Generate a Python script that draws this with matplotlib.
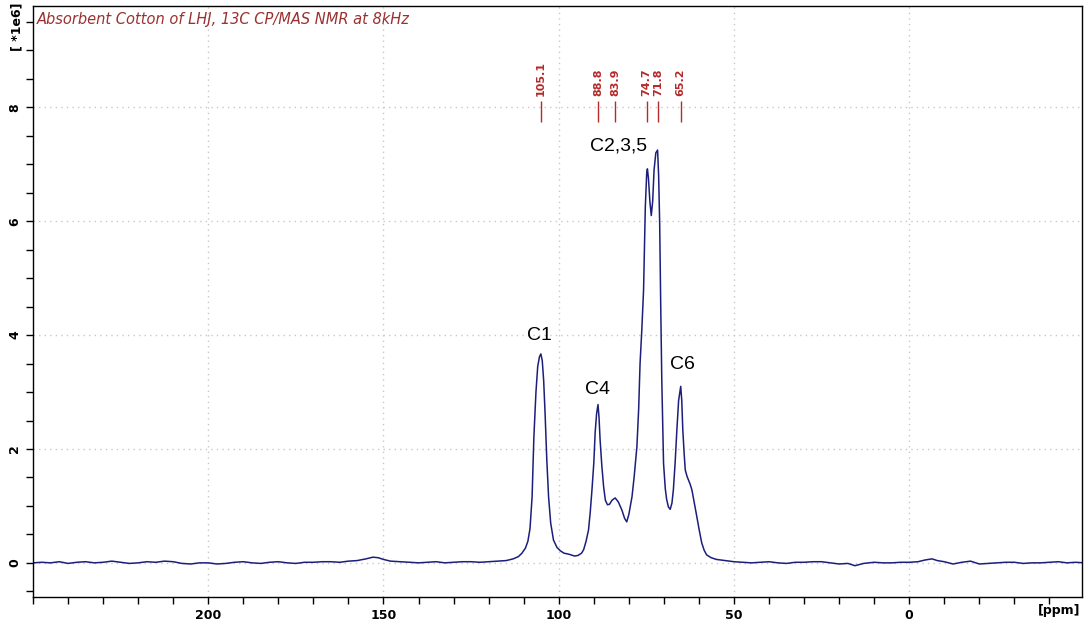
import numpy as np
import matplotlib
matplotlib.use("Agg")
import matplotlib.pyplot as plt
from matplotlib.ticker import MultipleLocator

# spectrum: chemical shift (ppm) and intensity (x 1e6)
# downfield baseline
ppm_base_hi = [250, 247.5, 245, 242.5, 240, 237.5, 235, 232.5, 230, 227.5,
               225, 222.5, 220, 217.5, 215, 212.5, 210, 207.5, 205, 202.5,
               200, 197.5, 195, 192.5, 190, 187.5, 185, 182.5, 180, 177.5,
               175, 172.5, 170, 167.5, 165, 162.5, 160, 157.5, 155, 153,
               151.5, 150, 148, 145, 142.5, 140, 137.5, 135, 132.5, 130,
               127.5, 125, 122.5, 120, 117.5, 115]
int_base_hi = [0.00, 0.01, 0.00, 0.02, -0.01, 0.01, 0.02, 0.00, 0.01, 0.03,
               0.01, -0.01, 0.00, 0.02, 0.01, 0.03, 0.02, -0.01, -0.02, 0.00,
               0.00, -0.02, -0.01, 0.01, 0.02, 0.00, -0.01, 0.01, 0.02, 0.00,
               -0.01, 0.01, 0.01, 0.02, 0.02, 0.01, 0.03, 0.04, 0.07, 0.10,
               0.09, 0.06, 0.03, 0.02, 0.01, 0.00, 0.01, 0.02, 0.00, 0.01,
               0.02, 0.02, 0.01, 0.02, 0.03, 0.04]

# cellulose carbon region
ppm_peaks = [113, 111.5, 110.5, 109.5, 108.8, 108.2, 107.6, 107.1, 106.5, 106.0,
             105.5, 105.1, 104.7, 104.3, 103.9, 103.4, 102.9, 102.3, 101.5, 100.5,
             99.5, 98.5, 97.0, 95.5, 94.5, 93.5, 92.9, 92.2, 91.5, 91.0,
             90.5, 90.0, 89.6, 89.2, 88.8, 88.5, 88.2, 87.7, 87.2, 86.7,
             86.1, 85.5, 84.8, 83.9, 83.0, 82.0, 81.2, 80.6, 80.0, 79.5,
             79.1, 78.5, 77.7, 77.2, 76.8, 76.3, 75.8, 75.3, 74.9, 74.7,
             74.4, 74.0, 73.6, 73.2, 72.8, 72.3, 71.8, 71.5, 71.2, 70.9,
             70.6, 70.1, 69.6, 69.2, 68.7, 68.2, 67.7, 67.3, 66.8, 66.3,
             65.8, 65.2, 64.9, 64.6, 64.2, 63.9, 63.4, 63.0, 62.5, 62.0,
             61.3, 60.6, 59.9, 59.2, 58.5, 57.8, 56.5, 55.0]
int_peaks = [0.07, 0.11, 0.17, 0.26, 0.38, 0.60, 1.16, 2.20, 3.00, 3.45,
             3.62, 3.67, 3.55, 3.20, 2.63, 1.80, 1.16, 0.70, 0.40, 0.27,
             0.21, 0.17, 0.15, 0.12, 0.13, 0.17, 0.23, 0.38, 0.58, 0.90,
             1.30, 1.75, 2.30, 2.62, 2.78, 2.55, 2.16, 1.70, 1.34, 1.10,
             1.02, 1.03, 1.10, 1.14, 1.07, 0.93, 0.78, 0.72, 0.85, 1.02,
             1.16, 1.50, 2.04, 2.70, 3.50, 4.09, 4.79, 6.25, 6.85, 6.92,
             6.75, 6.35, 6.10, 6.35, 6.90, 7.20, 7.25, 6.80, 5.96, 4.50,
             3.21, 1.75, 1.30, 1.11, 0.98, 0.94, 1.05, 1.28, 1.75, 2.33,
             2.85, 3.10, 2.85, 2.33, 1.90, 1.63, 1.52, 1.46, 1.38, 1.28,
             1.05, 0.81, 0.57, 0.35, 0.22, 0.14, 0.09, 0.06]

# upfield baseline
ppm_base_lo = [52.5, 50, 47.5, 45, 42.5, 40, 37.5, 35, 32.5, 30,
               27.5, 25, 22.5, 20, 17.5, 15.5, 13, 10, 7.5, 5,
               2.5, 0, -2.5, -4.5, -6.5, -8, -10, -12.5, -15, -17.5,
               -20, -22.5, -25, -27.5, -30, -32.5, -35, -37.5, -40, -42.5,
               -45, -47.5, -50]
int_base_lo = [0.04, 0.02, 0.01, 0.00, 0.01, 0.02, 0.00, -0.01, 0.01, 0.01,
               0.02, 0.02, 0.00, -0.02, -0.01, -0.05, -0.01, 0.01, 0.00, 0.00,
               0.01, 0.01, 0.02, 0.05, 0.07, 0.04, 0.02, -0.02, 0.01, 0.03,
               -0.02, -0.01, 0.00, 0.01, 0.01, -0.01, 0.00, 0.00, 0.01, 0.02,
               0.00, 0.01, 0.00]

peak_ppm = [105.1, 88.8, 83.9, 74.7, 71.8, 65.2]
peak_text = ["105.1", "88.8", "83.9", "74.7", "71.8", "65.2"]
# label positions nudged apart where the picks crowd each other
peak_text_ppm = [105.1, 88.8, 83.9, 75.1, 71.5, 65.2]

carbon_labels = ["C1", "C4", "C2,3,5", "C6"]
carbon_ppm = [105.6, 88.8, 82.9, 64.6]
carbon_y = [3.99, 3.04, 7.33, 3.48]

title = "Absorbent Cotton of LHJ, 13C CP/MAS NMR at 8kHz"

ppm = ppm_base_hi + ppm_peaks + ppm_base_lo
intensity = int_base_hi + int_peaks + int_base_lo

fig = plt.figure(figsize=(10.89, 6.26), dpi=100)
ax = fig.add_axes([0.0303, 0.0463, 0.9633, 0.9441])

ax.plot(ppm, intensity, color="#1c1f7a", lw=1.1)

ax.set_xlim(250, -49.3)
ax.set_ylim(-0.6, 9.78)

ax.xaxis.set_major_locator(MultipleLocator(50))
ax.xaxis.set_minor_locator(MultipleLocator(10))
ax.yaxis.set_major_locator(MultipleLocator(2))
ax.yaxis.set_minor_locator(MultipleLocator(0.5))
ax.grid(True, which="major", color="#c8c8c8", linestyle=(0, (1, 3)), lw=1.0)
ax.set_axisbelow(True)

ax.tick_params(which="both", direction="out", length=5, width=1, colors="black")
ax.set_xticks([200, 150, 100, 50, 0])
ax.set_xticklabels(["200", "150", "100", "50", "0"], fontsize=9, fontweight="bold")
ax.set_yticks([0, 2, 4, 6, 8])
ax.set_yticklabels(["0", "2", "4", "6", "8"], fontsize=9, fontweight="bold",
                   rotation=90, va="center")
for s in ax.spines.values():
    s.set_linewidth(1.0)

ax.text(0.004, 0.977, title, transform=ax.transAxes, ha="left", va="center",
        fontsize=10.5, style="italic", color="#9b3030")
fig.text(0.0156, 0.957, "[ *1e6]", rotation=90, ha="center", va="center",
         fontsize=9, fontweight="bold")
fig.text(0.973, 0.025, "[ppm]", ha="center", va="center", fontsize=9,
         fontweight="bold")

# peak picking markers
ax.vlines(peak_ppm, 7.74, 8.12, color="#b52a2a", lw=1.0)
for p, t in zip(peak_text_ppm, peak_text):
    ax.text(p, 8.2, t, rotation=90, ha="center", va="bottom", fontsize=8,
            fontweight="bold", color="#b52a2a")

for lab, p, y in zip(carbon_labels, carbon_ppm, carbon_y):
    ax.text(p, y, lab, ha="center", va="center", fontsize=14,
            family="Liberation Sans", color="black")

fig.savefig("out.png", dpi=100)
